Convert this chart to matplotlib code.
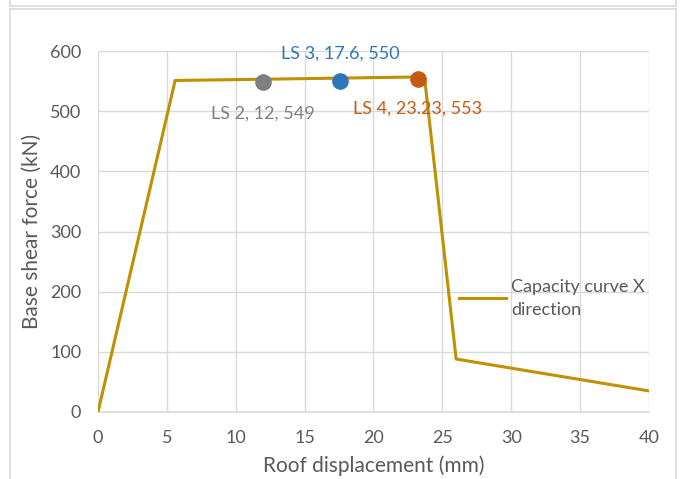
import matplotlib.pyplot as plt
from matplotlib.patches import Rectangle
from matplotlib.lines import Line2D

disp = [0, 5.6, 23.7, 26.0, 40]
shear = [0, 551, 557, 88, 35]

ls_disp = [12, 17.6, 23.23]
ls_shear = [549, 550, 553]
ls_text = ['LS 2, 12, 549', 'LS 3, 17.6, 550', 'LS 4, 23.23, 553']
ls_colors = ['#7f7f7f', '#2e75b6', '#c55a11']
ls_offsets = [(0, -23), (0, 20), (0, -21)]

grey = '#595959'
plt.rcParams['font.family'] = ['Lato', 'DejaVu Sans']

fig = plt.figure(figsize=(6.83, 4.79), dpi=100)
ax = fig.add_axes([0.1435, 0.1399, 0.8067, 0.7536])

ax.plot(disp, shear, color='#bf9000', linewidth=2.2, label='Capacity curve X\ndirection', zorder=3)

for x, y, txt, c, off in zip(ls_disp, ls_shear, ls_text, ls_colors, ls_offsets):
    ax.scatter([x], [y], s=120, color=c, zorder=4)
    ax.annotate(txt, (x, y), xytext=off, textcoords='offset points',
                ha='center', va='center', color=c, fontsize=13)

ax.set_xlim(0, 40)
ax.set_ylim(0, 600)
ax.set_xticks(range(0, 41, 5))
ax.set_yticks(range(0, 601, 100))
ax.grid(True, color='#d9d9d9', linewidth=1)
ax.set_axisbelow(True)
for s in ['top', 'right', 'left']:
    ax.spines[s].set_visible(False)
ax.spines['bottom'].set_color('#d9d9d9')
ax.spines['bottom'].set_linewidth(1.2)
ax.tick_params(length=0, colors=grey, labelsize=13)
ax.tick_params(axis='x', pad=13)
ax.tick_params(axis='y', pad=12)
ax.set_xlabel('Roof displacement (mm)', color=grey, fontsize=15, labelpad=7)
ax.set_ylabel('Base shear force (kN)', color=grey, fontsize=15, labelpad=6)

leg = ax.legend(loc='center left', bbox_to_anchor=(0.625, 0.315), frameon=False,
                fontsize=13, handlelength=2.6, handletextpad=0.3, labelcolor=grey)
for t in leg.get_texts():
    t.set_linespacing(1.5)

# chart frame lines
fig.patches.append(Rectangle((10 / 683, -0.01), 666 / 683, 1 - 9 / 479 + 0.01,
                             transform=fig.transFigure, fill=False,
                             edgecolor='#d9d9d9', linewidth=1.2))
fig.lines.append(Line2D([10 / 683, 676 / 683], [1 - 6 / 479, 1 - 6 / 479],
                        transform=fig.transFigure, color='#d9d9d9', linewidth=1.2))
fig.lines.append(Line2D([10 / 683, 10 / 683], [1 - 6 / 479, 1.0],
                        transform=fig.transFigure, color='#d9d9d9', linewidth=1.2))
fig.lines.append(Line2D([676 / 683, 676 / 683], [1 - 6 / 479, 1.0],
                        transform=fig.transFigure, color='#d9d9d9', linewidth=1.2))

fig.savefig('out.png', dpi=100)
